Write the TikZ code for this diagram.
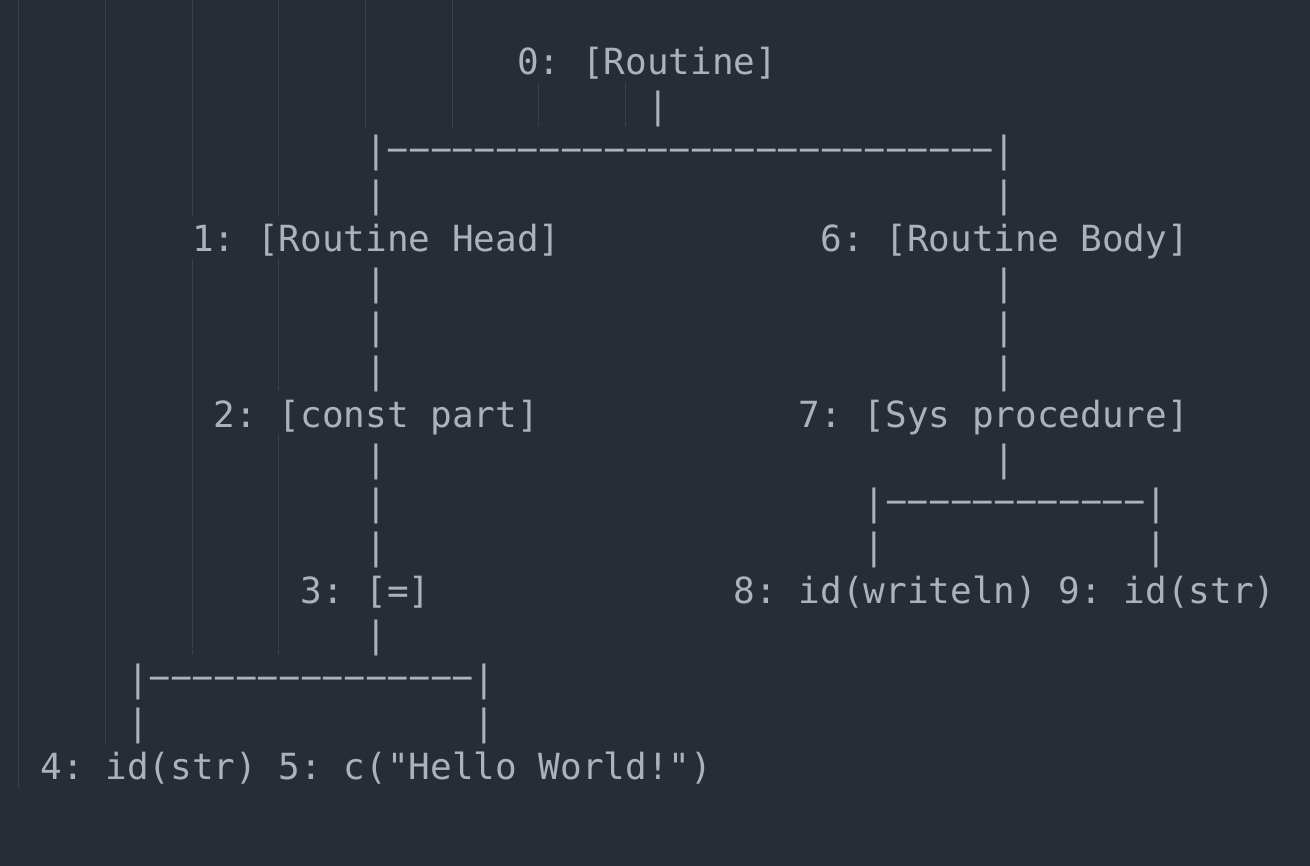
\documentclass[tikz,border=0pt]{standalone}
\usepackage{fontspec}
\usepackage{graphicx}
\setmonofont{DejaVu Sans Mono}
\definecolor{bgc}{HTML}{282C34}
\definecolor{txt}{HTML}{ABB2BF}
\definecolor{guide}{HTML}{4B5263}
\newcommand{\hy}{\sbox0{-}\makebox[\wd0]{\raisebox{1.4pt}{\scalebox{2.05}[1]{-}}}}
\newcommand{\hys}[1]{\foreach \i in {1,...,#1}{\hy}}
\begin{document}
\begin{tikzpicture}[x=0.5pt,y=-0.5pt,
  code/.style={anchor=base west,inner sep=0pt,outer sep=0pt,text=txt,
    font=\ttfamily\fontsize{18}{22}\selectfont},
  guideline/.style={draw=guide,line width=0.5pt,dash pattern=on 0.5pt off 0.5pt}]
\useasboundingbox (0,0) rectangle (1310,866);
\fill[bgc] (0,0) rectangle (1310,866);
% indentation guides
\draw[guideline] (18.7,0) -- (18.7,787);
\draw[guideline] ({18.7+21.67*4},0) -- ({18.7+21.67*4},743);
\draw[guideline] ({18.7+21.67*8},0) -- ({18.7+21.67*8},215);
\draw[guideline] ({18.7+21.67*8},259) -- ({18.7+21.67*8},655);
\draw[guideline] ({18.7+21.67*12},0) -- ({18.7+21.67*12},215);
\draw[guideline] ({18.7+21.67*12},259) -- ({18.7+21.67*12},391);
\draw[guideline] ({18.7+21.67*12},435) -- ({18.7+21.67*12},655);
\draw[guideline] ({18.7+21.67*16},0) -- ({18.7+21.67*16},127);
\draw[guideline] ({18.7+21.67*20},0) -- ({18.7+21.67*20},127);
\draw[guideline] ({18.7+21.67*24},83) -- ({18.7+21.67*24},127);
\draw[guideline] ({18.7+21.67*28},83) -- ({18.7+21.67*28},127);
% text cells: column c -> x = 18.7+21.67c ; row r -> baseline 75+44r
\newcommand{\cell}[4]{\node[code] (#1) at ({18.7+21.67*#2},{75+44*#3}) {#4};}
\cell{n0}{23}{0}{0: [Routine]}
\cell{r1a}{29}{1}{|}
\cell{r2a}{16}{2}{|\hys{28}|}
\cell{r3a}{16}{3}{|}
\cell{r3b}{45}{3}{|}
\cell{n1}{8}{4}{1: [Routine Head]}
\cell{n6}{37}{4}{6: [Routine Body]}
\cell{r5a}{16}{5}{|}
\cell{r5b}{45}{5}{|}
\cell{r6a}{16}{6}{|}
\cell{r6b}{45}{6}{|}
\cell{r7a}{16}{7}{|}
\cell{r7b}{45}{7}{|}
\cell{n2}{9}{8}{2: [const part]}
\cell{n7}{36}{8}{7: [Sys procedure]}
\cell{r9a}{16}{9}{|}
\cell{r9b}{45}{9}{|}
\cell{r10a}{16}{10}{|}
\cell{r10b}{39}{10}{|\hys{12}|}
\cell{r11a}{16}{11}{|}
\cell{r11b}{39}{11}{|}
\cell{r11c}{52}{11}{|}
\cell{n3}{13}{12}{3: [=]}
\cell{n8}{33}{12}{8: id(writeln)}
\cell{n9}{48}{12}{9: id(str)}
\cell{r13a}{16}{13}{|}
\cell{r14a}{5}{14}{|\hys{15}|}
\cell{r15a}{5}{15}{|}
\cell{r15b}{21}{15}{|}
\cell{n4}{1}{16}{4: id(str)}
\cell{n5}{12}{16}{5: c("Hello World!")}
\end{tikzpicture}
\end{document}
